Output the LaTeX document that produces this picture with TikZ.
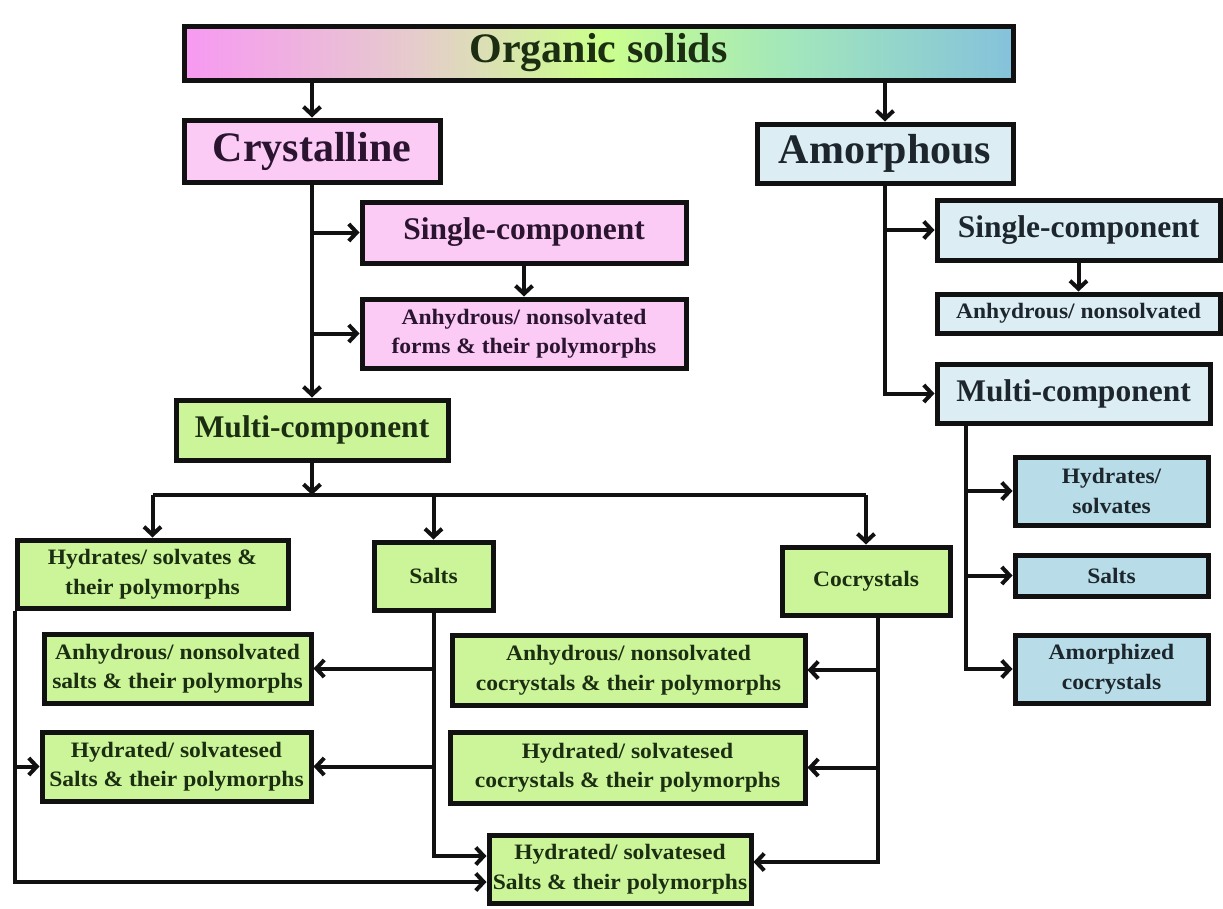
\documentclass[tikz,border=0pt]{standalone}
\usepackage{fontspec}
\setmainfont{Liberation Serif}
\newfontfamily\widefont{Liberation Serif}[FakeStretch=1.07]
\usetikzlibrary{arrows.meta,calc}
\definecolor{pinkfill}{HTML}{FBCBF6}
\definecolor{greenfill}{HTML}{CCF599}
\definecolor{bluefill}{HTML}{DCEEF3}
\definecolor{bluefillb}{HTML}{B8DDE8}
\definecolor{pinktxt}{HTML}{2A1430}
\definecolor{greentxt}{HTML}{1C2E12}
\definecolor{bluetxt}{HTML}{1C262C}
\definecolor{edge}{HTML}{111111}
\pgfdeclarehorizontalshading{bannershade}{100bp}{rgb(0bp)=(0.97,0.60,0.95); rgb(25bp)=(0.97,0.60,0.95); rgb(39bp)=(0.90,0.80,0.80); rgb(50bp)=(0.80,1.0,0.55); rgb(62bp)=(0.63,0.90,0.74); rgb(75bp)=(0.52,0.76,0.86); rgb(100bp)=(0.52,0.76,0.86)}
\tikzset{
  box/.style={draw=edge, line width=5pt, inner sep=0pt, align=center,
    font=\widefont\bfseries\fontsize{22}{29.5}\selectfont},
  bigtxt/.style={font=\bfseries\fontsize{42}{48}\selectfont},
  midtxt/.style={font=\bfseries\fontsize{31.5}{36}\selectfont},
  pinkbox/.style={box, fill=pinkfill, text=pinktxt},
  greenbox/.style={box, fill=greenfill, text=greentxt},
  bluebox/.style={box, fill=bluefill, text=bluetxt},
  blueboxb/.style={box, fill=bluefillb, text=bluetxt},
  conn/.style={draw=edge, line width=4pt},
  arr/.style={conn, -{Straight Barb[length=8pt,width=17pt]}}
}
\begin{document}
\begin{tikzpicture}[x=1pt,y=-1pt]
\useasboundingbox (0,0) rectangle (1223,908);
% top
\node[box, shading=bannershade, text=greentxt, minimum width=829pt, minimum height=54pt, font=\bfseries\fontsize{42}{46}\selectfont] (top) at (598.5,53) {Organic solids};
% crystalline branch
\node[pinkbox, bigtxt, minimum width=256pt, minimum height=62pt] (cry) at (312,151) {Crystalline};
\node[pinkbox, midtxt, minimum width=324pt, minimum height=61pt] (sgl) at (524,232.5) {Single-component};
\node[pinkbox, minimum width=324pt, minimum height=69pt] (anh) at (524,333.5) {Anhydrous/ nonsolvated\\forms \& their polymorphs};
\node[greenbox, midtxt, minimum width=272pt, minimum height=60pt] (mul) at (312,430) {Multi-component};
\node[greenbox, minimum width=271pt, minimum height=68pt] (hsv) at (152.5,574) {Hydrates/ solvates \&\\their polymorphs};
\node[greenbox, minimum width=119pt, minimum height=68pt] (sal) at (433.5,576) {Salts};
\node[greenbox, minimum width=168pt, minimum height=68pt] (coc) at (866,581) {Cocrystals};
\node[greenbox, minimum width=267pt, minimum height=69pt] (asa) at (177.5,668.5) {Anhydrous/ nonsolvated\\salts \& their polymorphs};
\node[greenbox, minimum width=269pt, minimum height=69pt] (hsa) at (176.5,766.5) {Hydrated/ solvatesed\\Salts \& their polymorphs};
\node[greenbox, minimum width=353pt, minimum height=70pt] (aco) at (628.5,670) {Anhydrous/ nonsolvated\\cocrystals \& their polymorphs};
\node[greenbox, minimum width=355pt, minimum height=71pt] (hco) at (627.5,767.5) {Hydrated/ solvatesed\\cocrystals \& their polymorphs};
\node[greenbox, minimum width=262pt, minimum height=68pt] (bot) at (620,869) {Hydrated/ solvatesed\\Salts \& their polymorphs};
% amorphous branch
\node[bluebox, bigtxt, minimum width=256pt, minimum height=59pt] (amo) at (885,153.5) {Amorphous};
\node[bluebox, midtxt, minimum width=283pt, minimum height=60pt] (asg) at (1078.5,230) {Single-component};
\node[bluebox, minimum width=283pt, minimum height=39pt] (aan) at (1078.5,313.5) {Anhydrous/ nonsolvated};
\node[bluebox, midtxt, minimum width=273pt, minimum height=59pt] (amu) at (1073.5,393.5) {Multi-component};
\node[blueboxb, minimum width=193pt, minimum height=68pt] (ahy) at (1111.5,491) {Hydrates/\\solvates};
\node[blueboxb, minimum width=193pt, minimum height=41pt] (asl) at (1111.5,575.5) {Salts};
\node[blueboxb, minimum width=193pt, minimum height=68pt] (aam) at (1111.5,669) {Amorphized\\cocrystals};
% connectors: top
\draw[arr] (top.south -| cry.north) -- (cry.north);
\draw[arr] (top.south -| amo.north) -- (amo.north);
% crystalline
\draw[arr] (cry.south) -- (cry.south |- mul.north);
\draw[arr] (cry.south |- sgl.west) -- (sgl.west);
\draw[arr] (cry.south |- anh.west) -- (anh.west);
\draw[arr] (sgl.south) -- (anh.north);
\coordinate (jn) at (312,495);
\draw[arr] (mul.south) -- (jn);
\draw[conn] (jn -| hsv.north) -- (jn -| coc.north);
\draw[arr] (jn -| hsv.north) -- (hsv.north);
\draw[arr] (jn -| sal.north) -- (sal.north);
\draw[arr] (jn -| coc.north) -- (coc.north);
% hydrates / solvates
\coordinate (bl) at ($(bot.west)+(0,13)$);
\coordinate (bu) at ($(bot.west)+(0,-13)$);
\draw[arr] (hsv.south west) |- (bl);
\draw[arr] (hsv.south west |- hsa.west) -- (hsa.west);
% salts
\draw[arr] (sal.south) |- (bu);
\draw[arr] (sal.south |- asa.east) -- (asa.east);
\draw[arr] (sal.south |- hsa.east) -- (hsa.east);
% cocrystals
\coordinate (cx) at ($(coc.south)+(12,0)$);
\draw[arr] (cx) |- ($(bot.east)+(0,-7)$);
\draw[arr] (cx |- aco.east) -- (aco.east);
\draw[arr] (cx |- hco.east) -- (hco.east);
% amorphous
\draw[arr] (amo.south) |- (amu.west);
\draw[arr] (amo.south |- asg.west) -- (asg.west);
\draw[arr] (asg.south) -- (aan.north);
\coordinate (mx) at ($(amu.south west)+(31,0)$);
\draw[arr] (mx) |- (aam.west);
\draw[arr] (mx |- ahy.west) -- (ahy.west);
\draw[arr] (mx |- asl.west) -- (asl.west);
\end{tikzpicture}
\end{document}
